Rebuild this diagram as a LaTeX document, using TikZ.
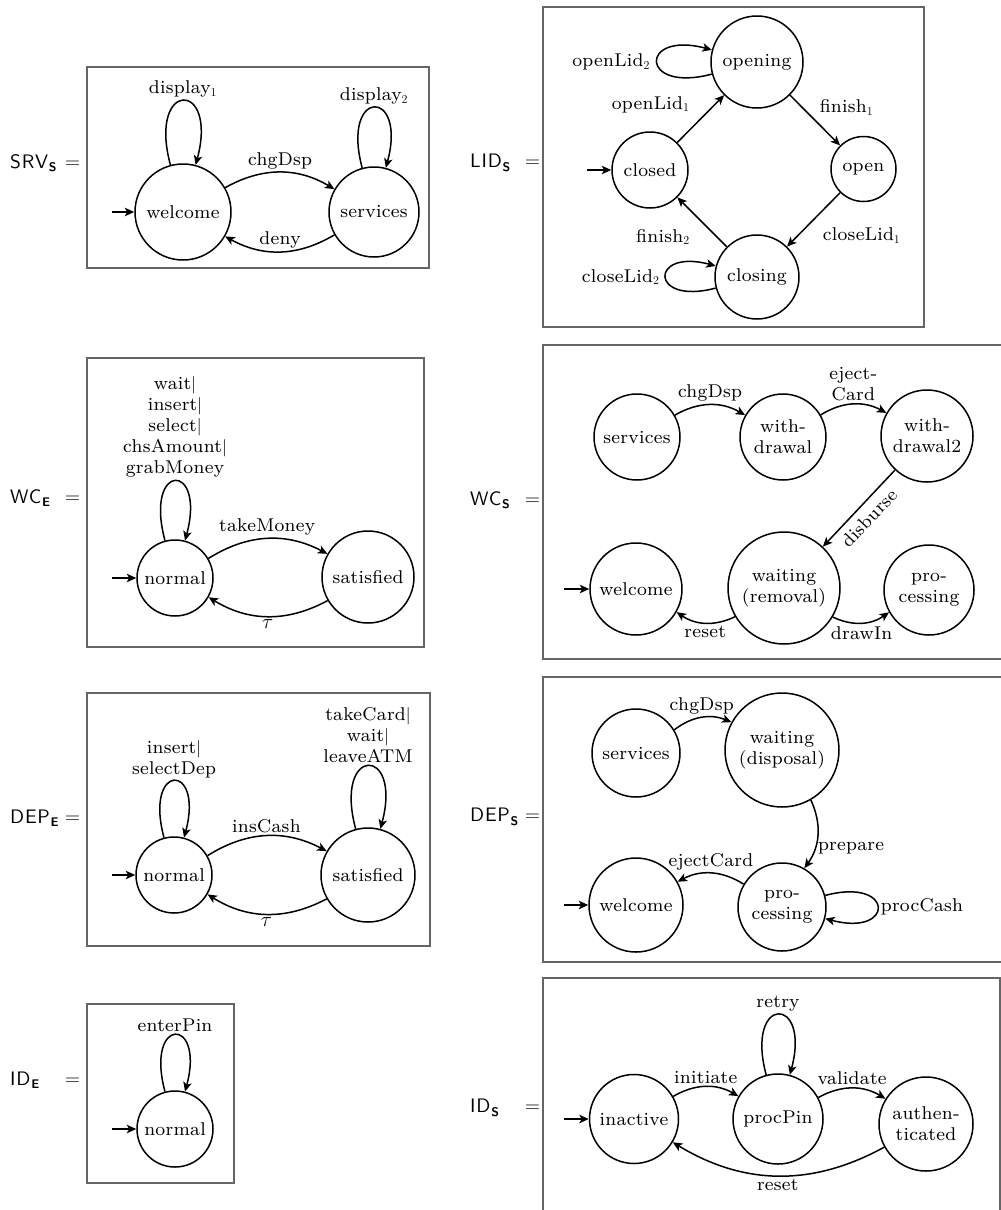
\documentclass[tikz,border=0pt]{standalone}
\usepackage{fontspec}
\setmainfont{lmroman8-regular.otf}[BoldFont=lmroman8-bold.otf,ItalicFont=lmroman8-italic.otf,LetterSpace=1.5]
\setsansfont{lmsans10-regular.otf}[BoldFont=lmsans10-bold.otf,LetterSpace=4]
\usetikzlibrary{arrows.meta}

\newcommand\statefont{\fontsize{18.5}{21}\selectfont}
\newcommand\procname[2]{\makebox[55pt][l]{\textsf{#1}\raisebox{-3.5pt}{\fontsize{12.5}{12.5}\selectfont\sffamily\bfseries #2}}$=$}
\newcommand\tauletter{{\fontsize{22}{22}\selectfont$\tau$}}

\tikzset{
  state/.style={circle, draw, line width=1.5pt, inner sep=0pt, align=center, font=\statefont},
  frame/.style={draw=black!60, line width=1.1pt},
  trans/.style={line width=1.5pt, -{Stealth[length=9.5pt,width=8.5pt,inset=2.5pt]}},
  lbl/.style={font=\statefont, inner sep=2.5pt, align=center},
  procnm/.style={anchor=west, inner sep=0pt, font=\fontsize{19.5}{20}\selectfont},
  every loop/.style={}
}

\begin{document}
\begin{tikzpicture}[x=1pt,y=1pt]
\useasboundingbox (0,0) rectangle (1001,-1210);
\fill[white] (0,0) rectangle (1001,-1210);

% ---------- SRV_S ----------
\draw[frame] (87,-67) rectangle (429,-268);
\node[procnm] (nSRV) at (10,-163) {\procname{SRV}{S}};
\node[state, minimum size=96pt] (srvW) at (183,-212) {welcome};
\node[state, minimum size=90pt] (srvS) at (374,-212) {services};
\coordinate (srvI) at (112,-212);
\draw[trans] (srvI) -- (srvW);
\draw[trans] (srvW) to[loop above, looseness=9] node[lbl,above] {display$_1$} (srvW);
\draw[trans] (srvS) to[loop above, looseness=9] node[lbl,above] {display$_2$} (srvS);
\draw[trans] (srvW) to[bend left] node[lbl,above] {chgDsp} (srvS);
\draw[trans] (srvS) to[bend left] node[lbl,above] {deny} (srvW);

% ---------- LID_S ----------
\draw[frame] (543,-7) rectangle (924,-327);
\node[procnm] (nLID) at (470,-163) {\procname{LID}{S}};
\node[state, minimum size=92pt] (lidOpening) at (757,-62) {opening};
\node[state, minimum size=76pt] (lidClosed) at (650,-170) {closed};
\node[state, minimum size=65pt] (lidOpen) at (863.5,-169) {open};
\node[state, minimum size=84pt] (lidClosing) at (757,-277) {closing};
\coordinate (lidI) at (587,-170);
\draw[trans] (lidI) -- (lidClosed);
\draw[trans] (lidClosed) -- node[lbl,pos=0.8,left=22pt] {openLid$_1$} (lidOpening);
\draw[trans] (lidOpening) -- node[lbl,pos=0.25,right=14pt] {finish$_1$} (lidOpen);
\draw[trans] (lidOpen) -- node[lbl,pos=0.8,right=22pt] {closeLid$_1$} (lidClosing);
\draw[trans] (lidClosing) -- node[lbl,pos=0.2,left=24pt] {finish$_2$} (lidClosed);
\draw[trans] (lidOpening) to[loop left] node[lbl,left=4pt] {openLid$_2$} (lidOpening);
\draw[trans] (lidClosing) to[loop left] node[lbl,left=3pt] {closeLid$_2$} (lidClosing);

% ---------- WC_E ----------
\draw[frame] (87,-358) rectangle (424,-647);
\node[procnm] (nWCE) at (10,-498) {\procname{WC}{E}};
\node[state, minimum size=76pt] (wceN) at (175,-578) {normal};
\node[state, minimum size=92pt] (wceS) at (368,-577) {satisfied};
\coordinate (wceI) at (112,-578);
\draw[trans] (wceI) -- (wceN);
\draw[trans] (wceN) to[loop above, looseness=10.5] node[lbl,above=1pt] {wait$|$\\insert$|$\\select$|$\\chsAmount$|$\\grabMoney} (wceN);
\draw[trans] (wceN) to[bend left] node[lbl,above] {takeMoney} (wceS);
\draw[trans] (wceS) to[bend left] node[lbl,below=0pt] {\tauletter} (wceN);

% ---------- WC_S ----------
\draw[frame] (543,-345) rectangle (1004,-659);
\node[procnm] (nWCS) at (470,-500) {\procname{WC}{S}};
\node[state, minimum size=86pt] (wcsServ) at (637,-437) {services};
\node[state, minimum size=86pt] (wcsW1) at (783,-437) {with-\\drawal};
\node[state, minimum size=92pt] (wcsW2) at (927,-436) {with-\\drawal2};
\node[state, minimum size=92pt] (wcsWel) at (636,-589) {welcome};
\node[state, minimum size=112pt] (wcsWait) at (784,-588) {waiting\\(removal)};
\node[state, minimum size=90pt] (wcsProc) at (929,-590) {pro-\\cessing};
\coordinate (wcsI) at (564,-589);
\draw[trans] (wcsI) -- (wcsWel);
\draw[trans] (wcsServ) to[bend left] node[lbl,above] {chgDsp} (wcsW1);
\draw[trans] (wcsW1) to[bend left] node[lbl,above] {eject-\\Card} (wcsW2);
\draw[trans] (wcsW2) -- node[lbl,sloped,below=4pt] {disburse} (wcsWait);
\draw[trans] (wcsWait) to[bend left] node[lbl,below] {reset} (wcsWel);
\draw[trans] (wcsWait) to[bend right] node[lbl,below] {drawIn} (wcsProc);

% ---------- DEP_E ----------
\draw[frame] (87,-693) rectangle (430,-946);
\node[procnm] (nDEPE) at (10,-818) {\procname{DEP}{E}};
\node[state, minimum size=76pt] (depeN) at (174,-875) {normal};
\node[state, minimum size=94pt] (depeS) at (368,-875) {satisfied};
\coordinate (depeI) at (112,-875);
\draw[trans] (depeI) -- (depeN);
\draw[trans] (depeN) to[loop above, looseness=10] node[lbl,above] {insert$|$\\selectDep} (depeN);
\draw[trans] (depeS) to[loop above, looseness=9] node[lbl,above] {takeCard$|$\\wait$|$\\leaveATM} (depeS);
\draw[trans] (depeN) to[bend left] node[lbl,above] {insCash} (depeS);
\draw[trans] (depeS) to[bend left] node[lbl,below=0pt] {\tauletter} (depeN);

% ---------- DEP_S ----------
\draw[frame] (543,-677) rectangle (1004,-962);
\node[procnm] (nDEPS) at (470,-817) {\procname{DEP}{S}};
\node[state, minimum size=88pt] (depsServ) at (636,-753) {services};
\node[state, minimum size=114pt] (depsWait) at (782,-750) {waiting\\(disposal)};
\node[state, minimum size=94pt] (depsWel) at (636,-905) {welcome};
\node[state, minimum size=88pt] (depsProc) at (782,-907) {pro-\\cessing};
\coordinate (depsI) at (564,-905);
\draw[trans] (depsI) -- (depsWel);
\draw[trans] (depsServ) to[bend left] node[lbl,above] {chgDsp} (depsWait);
\draw[trans] (depsWait) to[bend left] node[lbl,right,pos=0.7] {prepare} (depsProc);
\draw[trans] (depsProc) to[bend right] node[lbl,above] {ejectCard} (depsWel);
\draw[trans] (depsProc) to[loop right] node[lbl,right] {procCash} (depsProc);

% ---------- ID_E ----------
\draw[frame] (87,-1004) rectangle (234,-1183);
\node[procnm] (nIDE) at (10,-1080) {\procname{ID}{E}};
\node[state, minimum size=76pt] (ideN) at (175,-1129) {normal};
\coordinate (ideI) at (112,-1129);
\draw[trans] (ideI) -- (ideN);
\draw[trans] (ideN) to[loop above, looseness=10] node[lbl,above] {enterPin} (ideN);

% ---------- ID_S ----------
\draw[frame] (543,-978) rectangle (1000,-1220);
\node[procnm] (nIDS) at (470,-1108) {\procname{ID}{S}};
\node[state, minimum size=89pt] (idsIn) at (634,-1119) {inactive};
\node[state, minimum size=90pt] (idsPin) at (778,-1119) {procPin};
\node[state, minimum size=94pt] (idsAuth) at (926,-1124) {authen-\\ticated};
\coordinate (idsI) at (564,-1119);
\draw[trans] (idsI) -- (idsIn);
\draw[trans] (idsIn) to[bend left] node[lbl,above] {initiate} (idsPin);
\draw[trans] (idsPin) to[bend left] node[lbl,above] {validate} (idsAuth);
\draw[trans] (idsPin) to[loop above, looseness=9] node[lbl,above] {retry} (idsPin);
\draw[trans] (idsAuth) to[bend left] node[lbl,below] {reset} (idsIn);
\end{tikzpicture}
\end{document}
